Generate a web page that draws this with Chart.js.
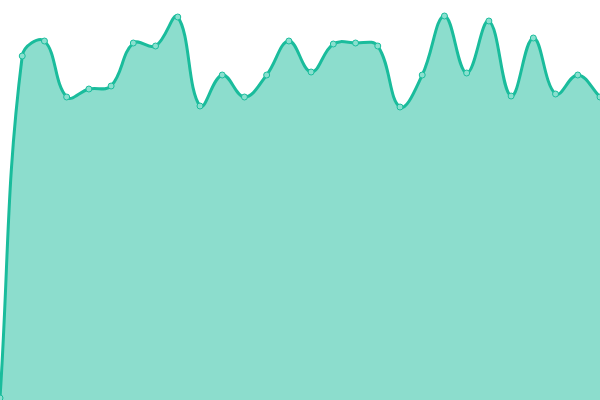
<!DOCTYPE html>
<html>
<head>
<meta charset="utf-8">
<script src="https://cdn.jsdelivr.net/npm/chart.js@4"></script>
<style>
  html, body { margin: 0; padding: 0; background: #fff; }
  #wrap { width: 600px; height: 400px; }
</style>
</head>
<body>
<div id="wrap"><canvas id="myChart"></canvas></div>
<script>
// valori (scala 0-400)
etichette = []
for (i = 0; i < 28; i++) etichette[i] = '' + (i + 1)
valori = [2, 344, 359, 303, 311, 314, 357, 354, 383, 294, 325, 303, 325, 359,
          328, 356, 357, 354, 293, 325, 384, 327, 379, 304, 362, 306, 325, 303]

const ctx = document.getElementById('myChart').getContext('2d');
const myChart = new Chart(ctx, {
    type: 'line',
    data: {
        labels: etichette,
        datasets: [{
            data: valori,
            borderColor: '#1abc9c',
            backgroundColor: 'rgba(26, 188, 156, 0.5)',
            borderWidth: 3,
            fill: true,
            tension: 0.4,
            pointRadius: 3,
            pointBorderWidth: 1,
            pointBackgroundColor: '#8ae0cf',
            pointBorderColor: '#1abc9c'
        }]
    },
    options: {
        responsive: true,
        maintainAspectRatio: false,
        animation: false,
        layout: { padding: 0, autoPadding: false },
        plugins: { legend: { display: false }, tooltip: { enabled: false } },
        scales: {
            x: { display: false, offset: false },
            y: { display: false, min: 0, max: 400 }
        }
    }
});
</script>
</body>
</html>
